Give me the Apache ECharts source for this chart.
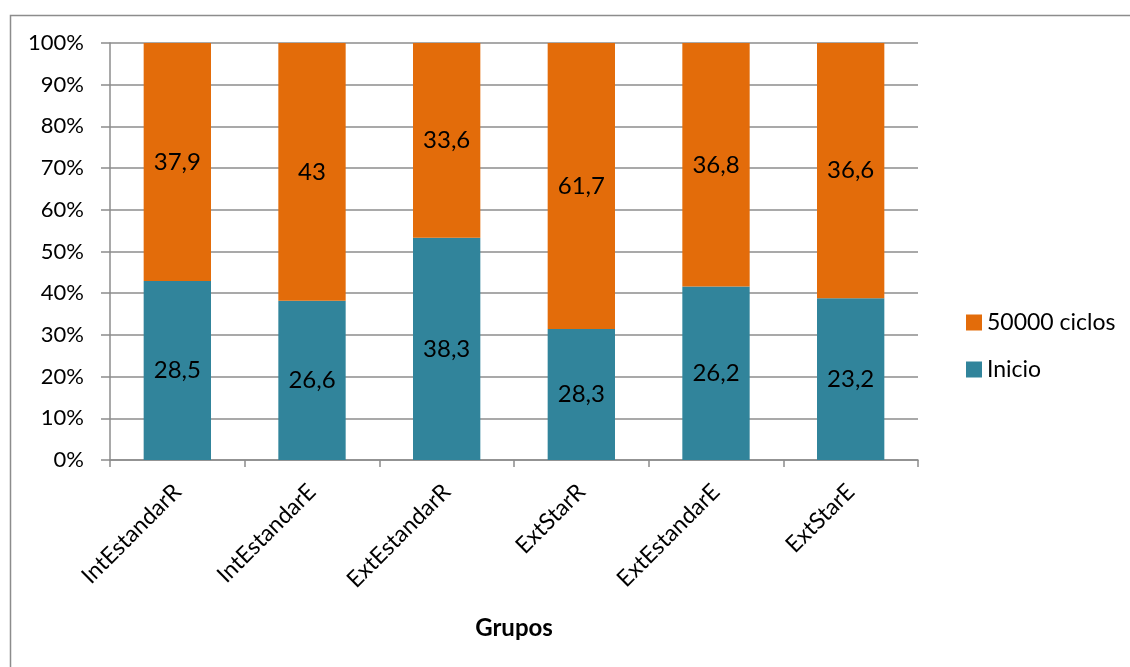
<!DOCTYPE html>
<html><head><meta charset="utf-8">
<script src="https://cdn.jsdelivr.net/npm/echarts@6/dist/echarts.min.js"></script>
<style>html,body{margin:0;padding:0;background:#fff}#c{width:1130px;height:667px}</style>
</head><body><div id="c"></div>
<script>
const categories = ['IntEstandarR','IntEstandarE','ExtEstandarR','ExtStarR','ExtEstandarE','ExtStarE'];
const inicio = [28.5, 26.6, 38.3, 28.3, 26.2, 23.2];
const ciclos = [37.9, 43, 33.6, 61.7, 36.8, 36.6];
const yTicks = [0,10,20,30,40,50,60,70,80,90,100];

const totals = categories.map((_, i) => inicio[i] + ciclos[i]);
const pct = (arr) => arr.map((v, i) => ({ value: v / totals[i] * 100, raw: v }));
const fmt = (p) => String(p.data.raw).replace('.', ',');
const FONT = 'Lato';

const chart = echarts.init(document.getElementById('c'));
chart.setOption({
  animation: false,
  textStyle: { fontFamily: FONT },
  graphic: [{
    type: 'rect', left: 8, top: 13,
    shape: { width: 1200, height: 700 },
    style: { fill: 'none', stroke: '#8c8c8c', lineWidth: 1.5 }
  }],
  grid: { left: 110, right: 212, top: 43, bottom: 207, containLabel: false },
  legend: {
    orient: 'vertical', left: 961, top: 306, itemWidth: 16, itemHeight: 16, itemGap: 24,
    icon: 'rect',
    data: ['50000 ciclos', 'Inicio'],
    textStyle: { fontFamily: FONT, fontSize: 23, color: '#000', padding: [0,0,0,0] }
  },
  xAxis: {
    type: 'category', data: categories,
    name: 'Grupos', nameLocation: 'middle', nameGap: 156,
    nameTextStyle: { fontFamily: FONT, fontSize: 24, fontWeight: 'bold', color: '#000' },
    axisLine: { lineStyle: { color: '#8c8c8c', width: 1.5 } },
    axisTick: { show: true, length: 7, alignWithLabel: false, lineStyle: { color: '#8c8c8c', width: 1.5 } },
    axisLabel: { rotate: 45, fontFamily: FONT, fontSize: 23, color: '#000', margin: 28, interval: 0 },
    splitLine: { show: false }
  },
  yAxis: {
    type: 'value', min: 0, max: 100, interval: 10,
    axisLine: { show: true, lineStyle: { color: '#8c8c8c', width: 1.5 } },
    axisTick: { show: true, length: 9, lineStyle: { color: '#8c8c8c', width: 1.5 } },
    axisLabel: { formatter: (v) => yTicks.includes(v) ? v + '%' : '', fontFamily: FONT, fontSize: 22, color: '#000', margin: 26 },
    splitLine: { show: true, lineStyle: { color: '#8c8c8c', width: 1.5 } }
  },
  series: [
    {
      name: 'Inicio', type: 'bar', stack: 'total', barWidth: '50%',
      data: pct(inicio),
      itemStyle: { color: '#31849B' },
      label: { show: true, position: 'inside', formatter: fmt, fontFamily: FONT, fontSize: 24, color: '#000' }
    },
    {
      name: '50000 ciclos', type: 'bar', stack: 'total', barWidth: '50%',
      data: pct(ciclos),
      itemStyle: { color: '#E36C0A' },
      label: { show: true, position: 'inside', formatter: fmt, fontFamily: FONT, fontSize: 24, color: '#000' }
    }
  ]
});
</script></body></html>
